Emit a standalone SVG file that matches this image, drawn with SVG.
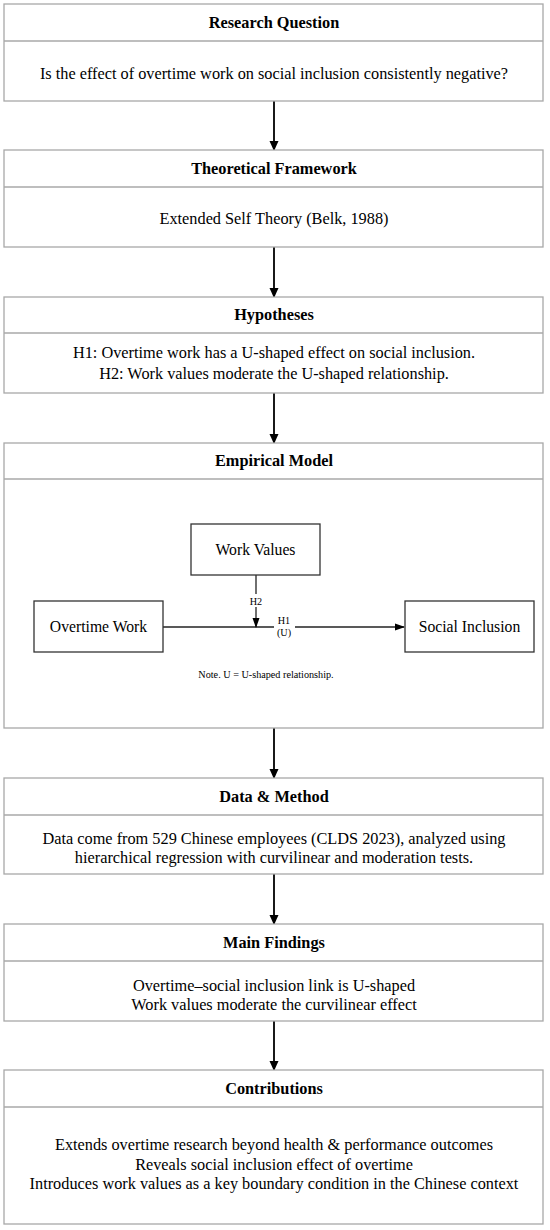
<svg xmlns="http://www.w3.org/2000/svg" width="550" height="1230" viewBox="0 0 550 1230">
<style>
.box{fill:#fff;stroke:#a8a8a8;stroke-width:1.3}
.div{stroke:#a8a8a8;stroke-width:1.3}
.ttl{font-family:"Liberation Serif","Times New Roman",serif;font-size:16.3px;font-weight:bold;text-anchor:middle;fill:#000}
.txt{font-family:"Liberation Serif","Times New Roman",serif;font-size:16.3px;text-anchor:middle;fill:#000}
.in{font-family:"Liberation Serif","Times New Roman",serif;font-size:15.7px;text-anchor:middle;fill:#000}
.nb{fill:#fff;stroke:#333;stroke-width:1.3}
.sm{font-family:"Liberation Serif","Times New Roman",serif;font-size:10.2px;text-anchor:middle;fill:#000}
.arr{stroke:#000;stroke-width:1.8;fill:none}
.ln{stroke:#222;stroke-width:1.3;fill:none}
</style>
<defs>
<marker id="ah" markerWidth="10" markerHeight="10" refX="9" refY="5" orient="auto" markerUnits="userSpaceOnUse">
<path d="M0,0.5 L10,5 L0,9.5 Z" fill="#000"/>
</marker>
<marker id="ahs" markerWidth="10" markerHeight="8" refX="9" refY="4" orient="auto" markerUnits="userSpaceOnUse">
<path d="M0,0.5 L10,4 L0,7.5 Z" fill="#000"/>
</marker>
</defs>
<rect width="550" height="1230" fill="#fff"/>

<g id="connectors">
<line class="arr" x1="274" y1="101" x2="274" y2="150" marker-end="url(#ah)"/>
<line class="arr" x1="274" y1="247" x2="274" y2="297" marker-end="url(#ah)"/>
<line class="arr" x1="274" y1="393" x2="274" y2="443" marker-end="url(#ah)"/>
<line class="arr" x1="274" y1="728" x2="274" y2="778" marker-end="url(#ah)"/>
<line class="arr" x1="274" y1="874" x2="274" y2="924" marker-end="url(#ah)"/>
<line class="arr" x1="274" y1="1021" x2="274" y2="1070" marker-end="url(#ah)"/>
</g>

<g id="research-question">
<rect class="box" x="4" y="4" width="539" height="97"/>
<line class="div" x1="4" y1="41" x2="543" y2="41"/>
<text class="ttl" x="274" y="28">Research Question</text>
<text class="txt" x="274" y="79">Is the effect of overtime work on social inclusion consistently negative?</text>
</g>

<g id="theoretical-framework">
<rect class="box" x="4" y="150" width="539" height="97"/>
<line class="div" x1="4" y1="187" x2="543" y2="187"/>
<text class="ttl" x="274" y="174">Theoretical Framework</text>
<text class="txt" x="274" y="224">Extended Self Theory (Belk, 1988)</text>
</g>

<g id="hypotheses">
<rect class="box" x="4" y="297" width="539" height="96"/>
<line class="div" x1="4" y1="333" x2="543" y2="333"/>
<text class="ttl" x="274" y="320">Hypotheses</text>
<text class="txt" x="274" y="358">H1: Overtime work has a U-shaped effect on social inclusion.</text>
<text class="txt" x="274" y="379">H2: Work values moderate the U-shaped relationship.</text>
</g>

<g id="empirical-model">
<rect class="box" x="4" y="443" width="539" height="285"/>
<line class="div" x1="4" y1="479" x2="543" y2="479"/>
<text class="ttl" x="274" y="466">Empirical Model</text>
</g>

<g id="model-connectors">
<line class="ln" x1="163" y1="627" x2="274" y2="627"/>
<line class="ln" x1="295" y1="627" x2="404" y2="627" marker-end="url(#ahs)"/>
<line class="ln" x1="256" y1="575" x2="256" y2="594"/>
<line class="ln" x1="256" y1="607" x2="256" y2="627" marker-end="url(#ahs)"/>
<text class="sm" x="256" y="604.5">H2</text>
<text class="sm" x="284" y="624">H1</text>
<text class="sm" x="284" y="636">(U)</text>
</g>

<g id="work-values">
<rect class="nb" x="191" y="524" width="129" height="51"/>
<text class="in" x="255.5" y="555">Work Values</text>
</g>

<g id="overtime-work">
<rect class="nb" x="34" y="601" width="129" height="51"/>
<text class="in" x="98.5" y="632">Overtime Work</text>
</g>

<g id="social-inclusion">
<rect class="nb" x="405" y="601" width="129" height="51"/>
<text class="in" x="469.5" y="632">Social Inclusion</text>
</g>

<g id="note">
<text class="sm" x="266" y="678">Note. U = U-shaped relationship.</text>
</g>

<g id="data-method">
<rect class="box" x="4" y="778" width="539" height="96"/>
<line class="div" x1="4" y1="815" x2="543" y2="815"/>
<text class="ttl" x="274" y="802">Data &amp; Method</text>
<text class="txt" x="274" y="844">Data come from 529 Chinese employees (CLDS 2023), analyzed using</text>
<text class="txt" x="274" y="863">hierarchical regression with curvilinear and moderation tests.</text>
</g>

<g id="main-findings">
<rect class="box" x="4" y="924" width="539" height="97"/>
<line class="div" x1="4" y1="961" x2="543" y2="961"/>
<text class="ttl" x="274" y="948">Main Findings</text>
<text class="txt" x="274" y="991">Overtime–social inclusion link is U-shaped</text>
<text class="txt" x="274" y="1010">Work values moderate the curvilinear effect</text>
</g>

<g id="contributions">
<rect class="box" x="4" y="1070" width="539" height="154"/>
<line class="div" x1="4" y1="1107" x2="543" y2="1107"/>
<text class="ttl" x="274" y="1094">Contributions</text>
<text class="txt" x="274" y="1150">Extends overtime research beyond health &amp; performance outcomes</text>
<text class="txt" x="274" y="1169.5">Reveals social inclusion effect of overtime</text>
<text class="txt" x="274" y="1189">Introduces work values as a key boundary condition in the Chinese context</text>
</g>
</svg>
